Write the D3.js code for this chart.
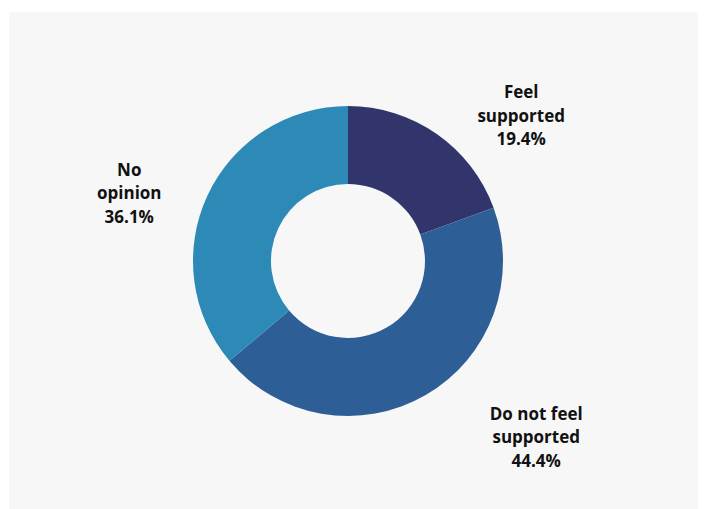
<!DOCTYPE html>
<html>
<head>
<meta charset="utf-8">
<script src="https://cdn.jsdelivr.net/npm/d3@7"></script>
<style>
  html, body { margin: 0; padding: 0; background: #ffffff; }
  svg { display: block; }
</style>
</head>
<body>
<svg id="chart"></svg>
<script>
// data
var categories = ["Feel supported", "Do not feel supported", "No opinion"];
var values = [19.4, 44.4, 36.1];
var label_lines = [["Feel", "supported"], ["Do not feel", "supported"], ["No", "opinion"]];

var colors = ["#31356b", "#2e5e96", "#2d8ab7"];
// label placement, angle from 12 o'clock (rad) and distance from centre
var label_angle = [0.873, 2.324, 5.013];
var label_radius = [226, 258, 229];

var width = 707, height = 509;
var cx = 348, cy = 261;
var outer_r = 155, inner_r = 77;
var line_h = 23.5;

const svg = d3.select("#chart")
            .attr("width", width)
            .attr("height", height)
            .attr("font-family", "'Open Sans', 'Noto Sans', sans-serif");

// grey panel
svg.append("rect")
    .attr("x", 9)
    .attr("y", 12)
    .attr("width", 689)
    .attr("height", 497)
    .attr("fill", "#f7f7f7");

var pie = d3.pie().sort(null).value(d => d);
var arcs = pie(values);
var arc = d3.arc().innerRadius(inner_r).outerRadius(outer_r);

var g = svg.append("g").attr("transform", "translate(" + cx + "," + cy + ")");

g.selectAll(".slice")
    .data(arcs)
    .enter()
    .append("path")
    .attr("class", "slice")
    .attr("d", arc)
    .attr("fill", (d, i) => colors[i]);

var labels = g.selectAll(".label")
    .data(arcs)
    .enter()
    .append("text")
    .attr("class", "label")
    .attr("text-anchor", "middle")
    .attr("font-size", 17)
    .attr("font-weight", 700)
    .attr("fill", "#111111")
    .attr("transform", (d, i) => {
        let a = label_angle[i], r = label_radius[i];
        return "translate(" + (Math.sin(a) * r) + "," + (-Math.cos(a) * r) + ")";
    });

labels.each(function(d, i) {
    let t = d3.select(this);
    let lines = label_lines[i].concat([values[i].toFixed(1) + "%"]);
    lines.forEach((s, k) => {
        t.append("tspan")
            .attr("x", 0)
            .attr("y", (k - 1) * line_h + 6)
            .text(s);
    });
});
</script>
</body>
</html>
